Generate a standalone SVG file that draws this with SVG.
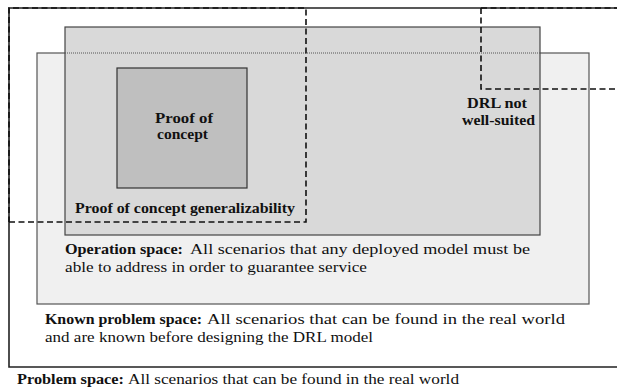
<svg xmlns="http://www.w3.org/2000/svg" width="617" height="388" viewBox="0 0 617 388">
<style>
  text { font-family: "Liberation Serif", "Times New Roman", serif; font-size: 15px; fill: #111; }
  .b { font-weight: bold; font-size: 14.5px; }
  .dash { fill: none; stroke: #111; stroke-width: 1.6; stroke-dasharray: 6 3.5; }
</style>
<rect x="0" y="0" width="617" height="388" fill="#ffffff"/>
<g id="problem-space">
  <path d="M 625 8 H 9 V 367 H 625" fill="none" stroke="#222" stroke-width="1.6"/>
  <text class="b" x="17" y="384" textLength="107" lengthAdjust="spacingAndGlyphs">Problem space:</text>
  <text x="128" y="384" textLength="331" lengthAdjust="spacingAndGlyphs">All scenarios that can be found in the real world</text>
</g>
<g id="known-problem-space">
  <rect x="37" y="53" width="552" height="251" fill="#f0f0f0" stroke="#555" stroke-width="1.2"/>
  <text class="b" x="45" y="324" textLength="157" lengthAdjust="spacingAndGlyphs">Known problem space:</text>
  <text x="207" y="324" textLength="358" lengthAdjust="spacingAndGlyphs">All scenarios that can be found in the real world</text>
  <text x="45" y="342" textLength="328" lengthAdjust="spacingAndGlyphs">and are known before designing the DRL model</text>
</g>
<g id="operation-space">
  <rect x="65" y="27" width="475" height="208" fill="#d9d9d9" stroke="#444" stroke-width="1.2"/>
  <line x1="65" y1="53" x2="540" y2="53" stroke="#555" stroke-width="1" stroke-dasharray="1 1"/>
  <text class="b" x="65" y="254" textLength="118" lengthAdjust="spacingAndGlyphs">Operation space:</text>
  <text x="190" y="254" textLength="340" lengthAdjust="spacingAndGlyphs">All scenarios that any deployed model must be</text>
  <text x="65" y="272" textLength="302" lengthAdjust="spacingAndGlyphs">able to address in order to guarantee service</text>
</g>
<g id="proof-of-concept">
  <rect x="117" y="68" width="130" height="120" fill="#bfbfbf" stroke="#333" stroke-width="1.2"/>
  <text class="b" x="184" y="123" text-anchor="middle" textLength="58" lengthAdjust="spacingAndGlyphs">Proof of</text>
  <text class="b" x="182.5" y="139" text-anchor="middle" textLength="51" lengthAdjust="spacingAndGlyphs">concept</text>
</g>
<g id="connectors">
  <path class="dash" d="M 9 222 H 306 V 8 H 9 V 222"/>
  <path class="dash" d="M 481 8 V 89 H 620 M 481 8 H 620"/>
</g>
<g id="generalizability">
  <text class="b" x="75" y="213" textLength="220" lengthAdjust="spacingAndGlyphs">Proof of concept generalizability</text>
</g>
<g id="drl-not-well-suited">
  <text class="b" x="497" y="108" text-anchor="middle" textLength="60" lengthAdjust="spacingAndGlyphs">DRL not</text>
  <text class="b" x="498.5" y="125" text-anchor="middle" textLength="73" lengthAdjust="spacingAndGlyphs">well-suited</text>
</g>
</svg>
